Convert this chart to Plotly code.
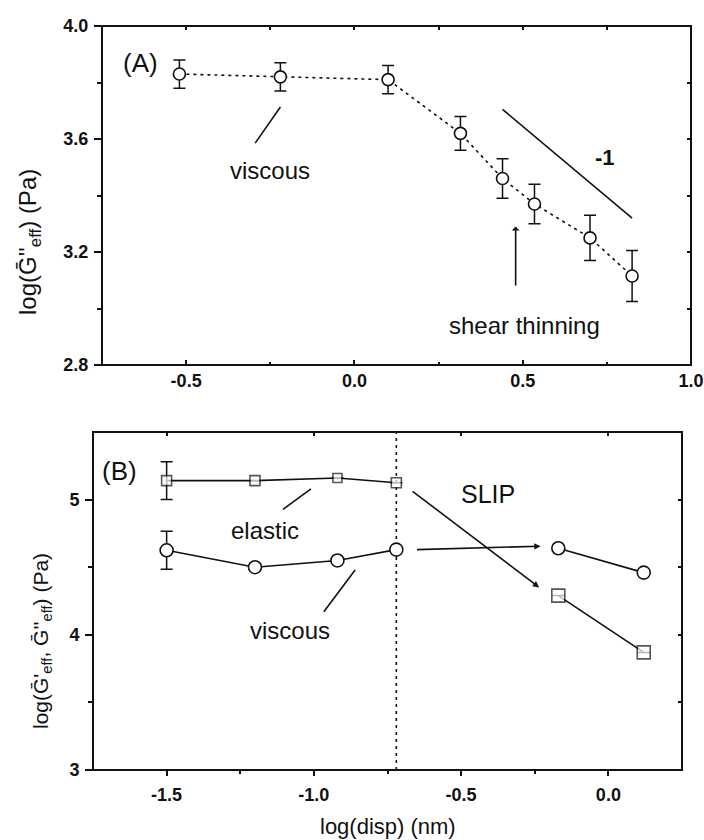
import plotly.graph_objects as go

# ---------- Panel A data ----------
a_x = [-0.52, -0.22, 0.10, 0.315, 0.44, 0.535, 0.70, 0.825]
a_y = [3.83, 3.82, 3.81, 3.62, 3.46, 3.37, 3.25, 3.115]
a_err = [0.05, 0.05, 0.05, 0.06, 0.07, 0.07, 0.08, 0.09]
a_xticks = [-0.5, 0.0, 0.5, 1.0]
a_xticklabels = ["-0.5", "0.0", "0.5", "1.0"]
a_yticks = [2.8, 3.2, 3.6, 4.0]
a_yticklabels = ["2.8", "3.2", "3.6", "4.0"]
a_slope_x = [0.44, 0.825]
a_slope_y = [3.705, 3.32]

# ---------- Panel B data ----------
b_x = [-1.5, -1.2, -0.92, -0.72, -0.17, 0.12]
b_elastic = [5.14, 5.14, 5.16, 5.125, 4.29, 3.87]
b_viscous = [4.625, 4.50, 4.55, 4.63, 4.64, 4.46]
b_elastic_err = [0.14, 0, 0, 0, 0, 0]
b_viscous_err = [0.14, 0, 0, 0, 0, 0]
b_slip_x = -0.72
b_xticks = [-1.5, -1.0, -0.5, 0.0]
b_xticklabels = ["-1.5", "-1.0", "-0.5", "0.0"]
b_yticks = [3, 4, 5]
b_yticklabels = ["3", "4", "5"]

FONT = "Liberation Sans, Arial, sans-serif"
BLACK = "#111111"
W, H = 704, 840

def px_x(p):
    return p / W

def px_y(p):
    return 1 - p / H

fig = go.Figure()

# Panel A
fig.add_trace(go.Scatter(
    x=a_x, y=a_y, mode="lines", xaxis="x", yaxis="y",
    line=dict(color=BLACK, width=1.6, dash="3px,4px"), showlegend=False))
fig.add_trace(go.Scatter(
    x=a_x, y=a_y, mode="markers", xaxis="x", yaxis="y",
    marker=dict(symbol="circle", size=12, color="white", line=dict(width=1.6, color=BLACK)),
    error_y=dict(type="data", array=a_err, color=BLACK, thickness=1.5, width=6),
    showlegend=False))
fig.add_trace(go.Scatter(
    x=a_slope_x, y=a_slope_y, mode="lines", xaxis="x", yaxis="y",
    line=dict(color=BLACK, width=1.6), showlegend=False))

# Panel B: split each series into segment before and after slip
def seg(vals):
    return vals[:4] + [None] + vals[4:]

bx_seg = seg(b_x)
fig.add_trace(go.Scatter(
    x=bx_seg, y=seg(b_elastic), mode="lines", xaxis="x3", yaxis="y3",
    line=dict(color=BLACK, width=1.6), showlegend=False))
fig.add_trace(go.Scatter(
    x=bx_seg, y=seg(b_viscous), mode="lines", xaxis="x3", yaxis="y3",
    line=dict(color=BLACK, width=1.6), showlegend=False))
fig.add_trace(go.Scatter(
    x=b_x, y=b_elastic, mode="markers", xaxis="x3", yaxis="y3",
    marker=dict(symbol="square", size=[10, 10, 9, 10, 13, 13], color="white",
                line=dict(width=1.6, color=BLACK)),
    error_y=dict(type="data", array=b_elastic_err, color=BLACK, thickness=1.5, width=6),
    showlegend=False))
fig.add_trace(go.Scatter(
    x=b_x, y=b_viscous, mode="markers", xaxis="x3", yaxis="y3",
    marker=dict(symbol="circle", size=13, color="white", line=dict(width=1.6, color=BLACK)),
    error_y=dict(type="data", array=b_viscous_err, color=BLACK, thickness=1.5, width=6),
    showlegend=False))

# invisible traces so the mirror axes (top / right ticks) are drawn
fig.add_trace(go.Scatter(x=[a_xticks[0]], y=[a_yticks[0]], xaxis="x2", yaxis="y2",
                         mode="markers", marker=dict(opacity=0), hoverinfo="skip",
                         showlegend=False))
fig.add_trace(go.Scatter(x=[b_xticks[0]], y=[b_yticks[0]], xaxis="x4", yaxis="y4",
                         mode="markers", marker=dict(opacity=0), hoverinfo="skip",
                         showlegend=False))

tickfont = dict(family=FONT, size=18, color=BLACK, weight="bold")
A_DOM_X = [px_x(102), px_x(691)]
A_DOM_Y = [px_y(365), px_y(26)]
B_DOM_X = [px_x(93), px_x(682)]
B_DOM_Y = [px_y(770), px_y(432)]

ax_common = dict(showgrid=False, zeroline=False, showline=False, automargin=False,
                 tickcolor=BLACK, tickwidth=1.5, tickfont=tickfont)

layout = dict(
    width=W, height=H, margin=dict(l=0, r=0, t=0, b=0, pad=0, autoexpand=False),
    paper_bgcolor="white", plot_bgcolor="white",
    font=dict(family=FONT, color=BLACK),
    # Panel A
    xaxis=dict(domain=A_DOM_X, anchor="y", range=[-0.75, 1.0],
               tickvals=a_xticks, ticktext=a_xticklabels, ticks="inside", ticklen=5,
               ticklabelstandoff=3,
               minor=dict(tickvals=[-0.25, 0.25, 0.75], ticks="inside", ticklen=3,
                          tickcolor=BLACK), **ax_common),
    yaxis=dict(domain=A_DOM_Y, anchor="x", range=[2.8, 4.0],
               tickvals=a_yticks, ticktext=a_yticklabels, ticks="outside", ticklen=7,
               ticklabelstandoff=2,
               minor=dict(tickvals=[3.0, 3.4, 3.8], ticks="outside", ticklen=4,
                          tickcolor=BLACK), **ax_common),
    xaxis2=dict(domain=A_DOM_X, anchor="y2", overlaying="x", side="top",
                range=[-0.75, 1.0], tickvals=[-0.5, -0.25, 0.0, 0.25, 0.5, 0.75],
                ticks="inside", ticklen=4, showticklabels=False, **ax_common),
    yaxis2=dict(domain=A_DOM_Y, anchor="x2", overlaying="y", side="right",
                range=[2.8, 4.0], tickvals=[3.0, 3.2, 3.4, 3.6, 3.8],
                ticks="inside", ticklen=4, showticklabels=False, **ax_common),
    # Panel B
    xaxis3=dict(domain=B_DOM_X, anchor="y3", range=[-1.75, 0.25],
                tickvals=b_xticks, ticktext=b_xticklabels, ticks="outside", ticklen=5,
                ticklabelstandoff=3,
                minor=dict(tickvals=[-1.25, -0.75, -0.25], ticks="outside", ticklen=3,
                           tickcolor=BLACK), **ax_common),
    yaxis3=dict(domain=B_DOM_Y, anchor="x3", range=[3, 5.5],
                tickvals=b_yticks, ticktext=b_yticklabels, ticks="outside", ticklen=7,
                ticklabelstandoff=2,
                minor=dict(tickvals=[3.5, 4.5], ticks="outside", ticklen=4,
                           tickcolor=BLACK), **ax_common),
    xaxis4=dict(domain=B_DOM_X, anchor="y4", overlaying="x3", side="top",
                range=[-1.75, 0.25], tickvals=[-1.5, -1.0, -0.5, 0.0],
                ticks="inside", ticklen=4, showticklabels=False, **ax_common),
    yaxis4=dict(domain=B_DOM_Y, anchor="x4", overlaying="y3", side="right",
                range=[3, 5.5], tickvals=[3.5, 4.0, 4.5, 5.0],
                ticks="inside", ticklen=4, showticklabels=False, **ax_common),
)
fig.update_layout(**layout)

# frame boxes
for xr, yr in (("x", "y"), ("x3", "y3")):
    fig.add_shape(type="rect", xref=f"{xr} domain", yref=f"{yr} domain",
                  x0=0, x1=1, y0=0, y1=1, line=dict(color=BLACK, width=2),
                  fillcolor="rgba(0,0,0,0)", layer="above")

# vertical dotted line at slip onset
fig.add_shape(type="line", xref="x3", yref="y3", x0=b_slip_x, x1=b_slip_x, y0=3, y1=5.5,
              line=dict(color=BLACK, width=1.6, dash="3px,4px"), layer="below")

ann_font = dict(family=FONT, size=24, color=BLACK)
C = dict(xanchor="center", yanchor="middle")
annotations = [
    # Panel A
    dict(xref="x", yref="y", x=-0.635, y=3.87, text="(A)", showarrow=False,
         font=dict(family=FONT, size=26, color=BLACK), **C),
    dict(xref="x", yref="y", x=-0.25, y=3.49, text="viscous", showarrow=False,
         font=ann_font, **C),
    dict(xref="x", yref="y", x=-0.22, y=3.713, ax=-0.298, ay=3.58, axref="x", ayref="y",
         text="", showarrow=True, arrowhead=0, arrowwidth=1.6, arrowcolor=BLACK),
    dict(xref="x", yref="y", x=0.745, y=3.535, text="<b>-1</b>", showarrow=False,
         font=dict(family=FONT, size=22, color=BLACK), **C),
    dict(xref="x", yref="y", x=0.505, y=2.94, text="shear thinning", showarrow=False,
         font=ann_font, **C),
    dict(xref="x", yref="y", x=0.479, y=3.29, ax=0.479, ay=3.076, axref="x", ayref="y",
         text="", showarrow=True, arrowhead=1, arrowsize=0.8, arrowwidth=1.6,
         arrowcolor=BLACK),
    dict(xref="paper", yref="paper", x=px_x(30), y=px_y(242),
         text="log(Ḡ''<sub>eff</sub>) (Pa)", textangle=-90, showarrow=False,
         font=dict(family=FONT, size=24, color=BLACK), **C),
    # Panel B
    dict(xref="x3", yref="y3", x=-1.66, y=5.21, text="(B)", showarrow=False,
         font=dict(family=FONT, size=26, color=BLACK), **C),
    dict(xref="x3", yref="y3", x=-0.41, y=5.04, text="SLIP", showarrow=False,
         font=dict(family=FONT, size=25, color=BLACK), **C),
    dict(xref="x3", yref="y3", x=-1.165, y=4.77, text="elastic", showarrow=False,
         font=ann_font, **C),
    dict(xref="x3", yref="y3", x=-1.01, y=5.08, ax=-1.11, ay=4.92, axref="x3", ayref="y3",
         text="", showarrow=True, arrowhead=0, arrowwidth=1.6, arrowcolor=BLACK),
    dict(xref="x3", yref="y3", x=-1.08, y=4.03, text="viscous", showarrow=False,
         font=ann_font, **C),
    dict(xref="x3", yref="y3", x=-0.86, y=4.48, ax=-0.97, ay=4.16, axref="x3", ayref="y3",
         text="", showarrow=True, arrowhead=0, arrowwidth=1.6, arrowcolor=BLACK),
    dict(xref="x3", yref="y3", x=-0.23, y=4.655, ax=-0.655, ay=4.63, axref="x3", ayref="y3",
         text="", showarrow=True, arrowhead=2, arrowsize=0.8, arrowwidth=1.6,
         arrowcolor=BLACK),
    dict(xref="x3", yref="y3", x=-0.235, y=4.35, ax=-0.67, ay=5.07, axref="x3", ayref="y3",
         text="", showarrow=True, arrowhead=2, arrowsize=0.8, arrowwidth=1.6,
         arrowcolor=BLACK),
    dict(xref="paper", yref="paper", x=px_x(42), y=px_y(641),
         text="log(Ḡ'<sub>eff</sub>, Ḡ''<sub>eff</sub>) (Pa)", textangle=-90,
         showarrow=False, font=dict(family=FONT, size=21, color=BLACK), **C),
    dict(xref="paper", yref="paper", x=px_x((93 + 682) / 2), y=px_y(826),
         text="log(disp) (nm)", showarrow=False,
         font=dict(family=FONT, size=22, color=BLACK), **C),
]
fig.update_layout(annotations=annotations)

fig.write_html(
    "out.html",
    config={"displayModeBar": False},
    post_script="document.body.style.margin='0';document.body.style.overflow='hidden';",
)
